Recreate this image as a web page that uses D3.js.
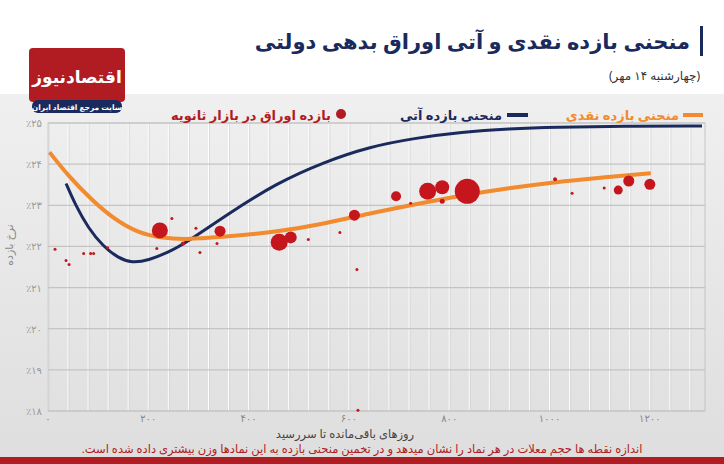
<!DOCTYPE html>
<html><head><meta charset="utf-8">
<script src="https://cdn.jsdelivr.net/npm/d3@7"></script>
<style>body{margin:0;background:#e9e9e9;}svg{display:block;font-family:"Noto Sans","DejaVu Sans",sans-serif;}</style>
</head><body><svg id="c" width="724" height="464"></svg>
<script>
const spotDays=[3,40,88,130,180,230,273,340,457,550,640,730,825,920,1009,1100,1202];
const spotRates=[24.29,23.72,23.12,22.68,22.32,22.2,22.17,22.22,22.35,22.55,22.8,23.02,23.24,23.42,23.56,23.67,23.78];
const fwdDays=[36,55,80,110,140,167,200,240,273,360,456,550,640,730,825,920,1009,1150,1304];
const fwdRates=[23.53,23.0,22.45,22.0,21.72,21.6,21.66,21.86,22.07,22.8,23.54,24.05,24.42,24.63,24.78,24.86,24.9,24.92,24.93];
const bondDays=[14,36,42,71,85,91,119,223,217,247,269,295,303,337,343,461,484,519,582,611,616,618,694,723,757,786,786,836,1011,1045,1109,1137,1158,1200];
const bondRates=[21.93,21.66,21.56,21.83,21.83,21.83,21.97,22.39,21.95,22.68,22.07,22.44,21.85,22.07,22.37,22.1,22.22,22.17,22.34,22.76,21.44,18.02,23.22,23.05,23.34,23.44,23.10,23.34,23.63,23.29,23.42,23.37,23.59,23.51];
const bondSizes=[1.5,1.5,1.5,1.5,1.5,1.5,1.5,8,1.5,1.5,2,1.5,1.5,1.5,5.5,8.5,6,1.5,1.5,5.5,1.5,1.5,5,1.5,8.5,7,2.5,12.5,2,1.5,1.5,4.5,5.5,5.5];
const yTicks=[18,19,20,21,22,23,24,25];
const xTicks=[0,200,400,600,800,1000,1200];
const fa=n=>String(n).replace(/\d/g,d=>"۰۱۲۳۴۵۶۷۸۹"[d]);

const svg=d3.select("#c");
const defs=svg.append("defs");
const g1=defs.append("linearGradient").attr("id","bg").attr("x1",0).attr("y1",0).attr("x2",0).attr("y2",1);
g1.append("stop").attr("offset","0").attr("stop-color","#f4f4f4");
g1.append("stop").attr("offset","1").attr("stop-color","#dedede");
svg.append("rect").attr("width",724).attr("height",464).attr("fill","url(#bg)");
svg.append("rect").attr("x",0).attr("y",0).attr("width",724).attr("height",94).attr("fill","#fff");
svg.append("rect").attr("x",0).attr("y",457).attr("width",724).attr("height",7).attr("fill","#b01c22");
// title
svg.append("rect").attr("x",700).attr("y",26).attr("width",3).attr("height",30).attr("fill","#1b2a5c");
svg.append("text").attr("x",690).attr("y",49).attr("text-anchor","end").attr("font-size",21).attr("font-weight","bold").attr("fill","#1b2a5c").text("منحنی بازده نقدی و آتی اوراق بدهی دولتی");
svg.append("text").attr("x",700).attr("y",80).attr("text-anchor","end").attr("font-size",12).attr("fill","#333").text("(چهارشنبه ۱۴ مهر)");
// logo
svg.append("rect").attr("x",29).attr("y",48).attr("width",96).attr("height",54).attr("rx",4).attr("fill","#b01c22");
svg.append("text").attr("x",77).attr("y",83).attr("text-anchor","middle").attr("font-size",17).attr("font-weight","bold").attr("fill","#fff").text("اقتصادنیوز");
svg.append("rect").attr("x",32).attr("y",100).attr("width",90).attr("height",13).attr("rx",6).attr("fill","#1b2a5c");
svg.append("text").attr("x",77).attr("y",110).attr("text-anchor","middle").attr("font-size",7.5).attr("font-weight","bold").attr("fill","#fff").text("سایت مرجع اقتصاد ایران");

const x=d3.scaleLinear().domain([0,1310]).range([48,705]);
const y=d3.scaleLinear().domain([18,25]).range([411,123]);
// grid
const vg=d3.range(0,1320,40);
svg.append("g").selectAll("line").data(vg).join("line").attr("x1",d=>x(d)).attr("x2",d=>x(d)).attr("y1",y(25)).attr("y2",y(18)).attr("stroke","#fff").attr("stroke-width",1);
svg.append("g").selectAll("line").data(vg).join("line").attr("x1",d=>x(d)+1).attr("x2",d=>x(d)+1).attr("y1",y(25)).attr("y2",y(18)).attr("stroke","#cfcfcf").attr("stroke-width",0.6);
svg.append("g").selectAll("line").data(yTicks).join("line").attr("x1",48).attr("x2",705).attr("y1",d=>y(d)).attr("y2",d=>y(d)).attr("stroke","#c4c4c4").attr("stroke-width",1.2);
svg.append("rect").attr("x",48).attr("y",y(25)).attr("width",657).attr("height",y(18)-y(25)).attr("fill","none").attr("stroke","#c4c4c4");
// ticks
svg.append("g").selectAll("text").data(yTicks).join("text").attr("x",42).attr("y",d=>y(d)+4).attr("text-anchor","end").attr("font-size",10).attr("fill","#999").text(d=>"٪"+fa(d));
svg.append("g").selectAll("text").data(xTicks).join("text").attr("x",d=>x(d)).attr("y",422).attr("text-anchor","middle").attr("font-size",10).attr("fill","#888").text(d=>fa(d));
svg.append("text").attr("transform","translate(13,245) rotate(-90)").attr("text-anchor","middle").attr("font-size",11).attr("fill","#888").text("نرخ بازده");
svg.append("text").attr("x",345).attr("y",438).attr("text-anchor","middle").attr("font-size",11.5).attr("fill","#444").text("روزهای باقی‌مانده تا سررسید");
svg.append("text").attr("x",362).attr("y",453).attr("text-anchor","middle").attr("direction","rtl").attr("font-size",11.5).attr("fill","#b01c22").text("اندازه نقطه ها حجم معلات در هر نماد را نشان میدهد و در تخمین منحنی بازده به این نمادها وزن بیشتری داده شده است.");
// legend
svg.append("line").attr("x1",683).attr("x2",703).attr("y1",115).attr("y2",115).attr("stroke","#f28a2e").attr("stroke-width",4);
svg.append("text").attr("x",679).attr("y",120).attr("text-anchor","end").attr("font-size",13).attr("font-weight","bold").attr("fill","#f28a2e").text("منحنی بازده نقدی");
svg.append("line").attr("x1",507).attr("x2",528).attr("y1",115).attr("y2",115).attr("stroke","#1b2a5c").attr("stroke-width",4);
svg.append("text").attr("x",502).attr("y",120).attr("text-anchor","end").attr("font-size",13).attr("font-weight","bold").attr("fill","#1b2a5c").text("منحنی بازده آتی");
svg.append("circle").attr("cx",341).attr("cy",114).attr("r",5).attr("fill","#b01c22");
svg.append("text").attr("x",331).attr("y",120).attr("text-anchor","end").attr("font-size",13).attr("font-weight","bold").attr("fill","#b01c22").text("بازده اوراق در بازار ثانویه");
// curves
const line=d3.line().curve(d3.curveBasis).x(d=>x(d[0])).y(d=>y(d[1]));
svg.append("path").attr("d",line(fwdDays.map((d,i)=>[d,fwdRates[i]]))).attr("fill","none").attr("stroke","#1b2a5c").attr("stroke-width",3);
svg.append("path").attr("d",line(spotDays.map((d,i)=>[d,spotRates[i]]))).attr("fill","none").attr("stroke","#f28a2e").attr("stroke-width",4);
svg.append("g").selectAll("circle").data(bondDays).join("circle").attr("cx",d=>x(d)).attr("cy",(d,i)=>y(bondRates[i])).attr("r",(d,i)=>bondSizes[i]).attr("fill","#c4161c");
</script></body></html>
